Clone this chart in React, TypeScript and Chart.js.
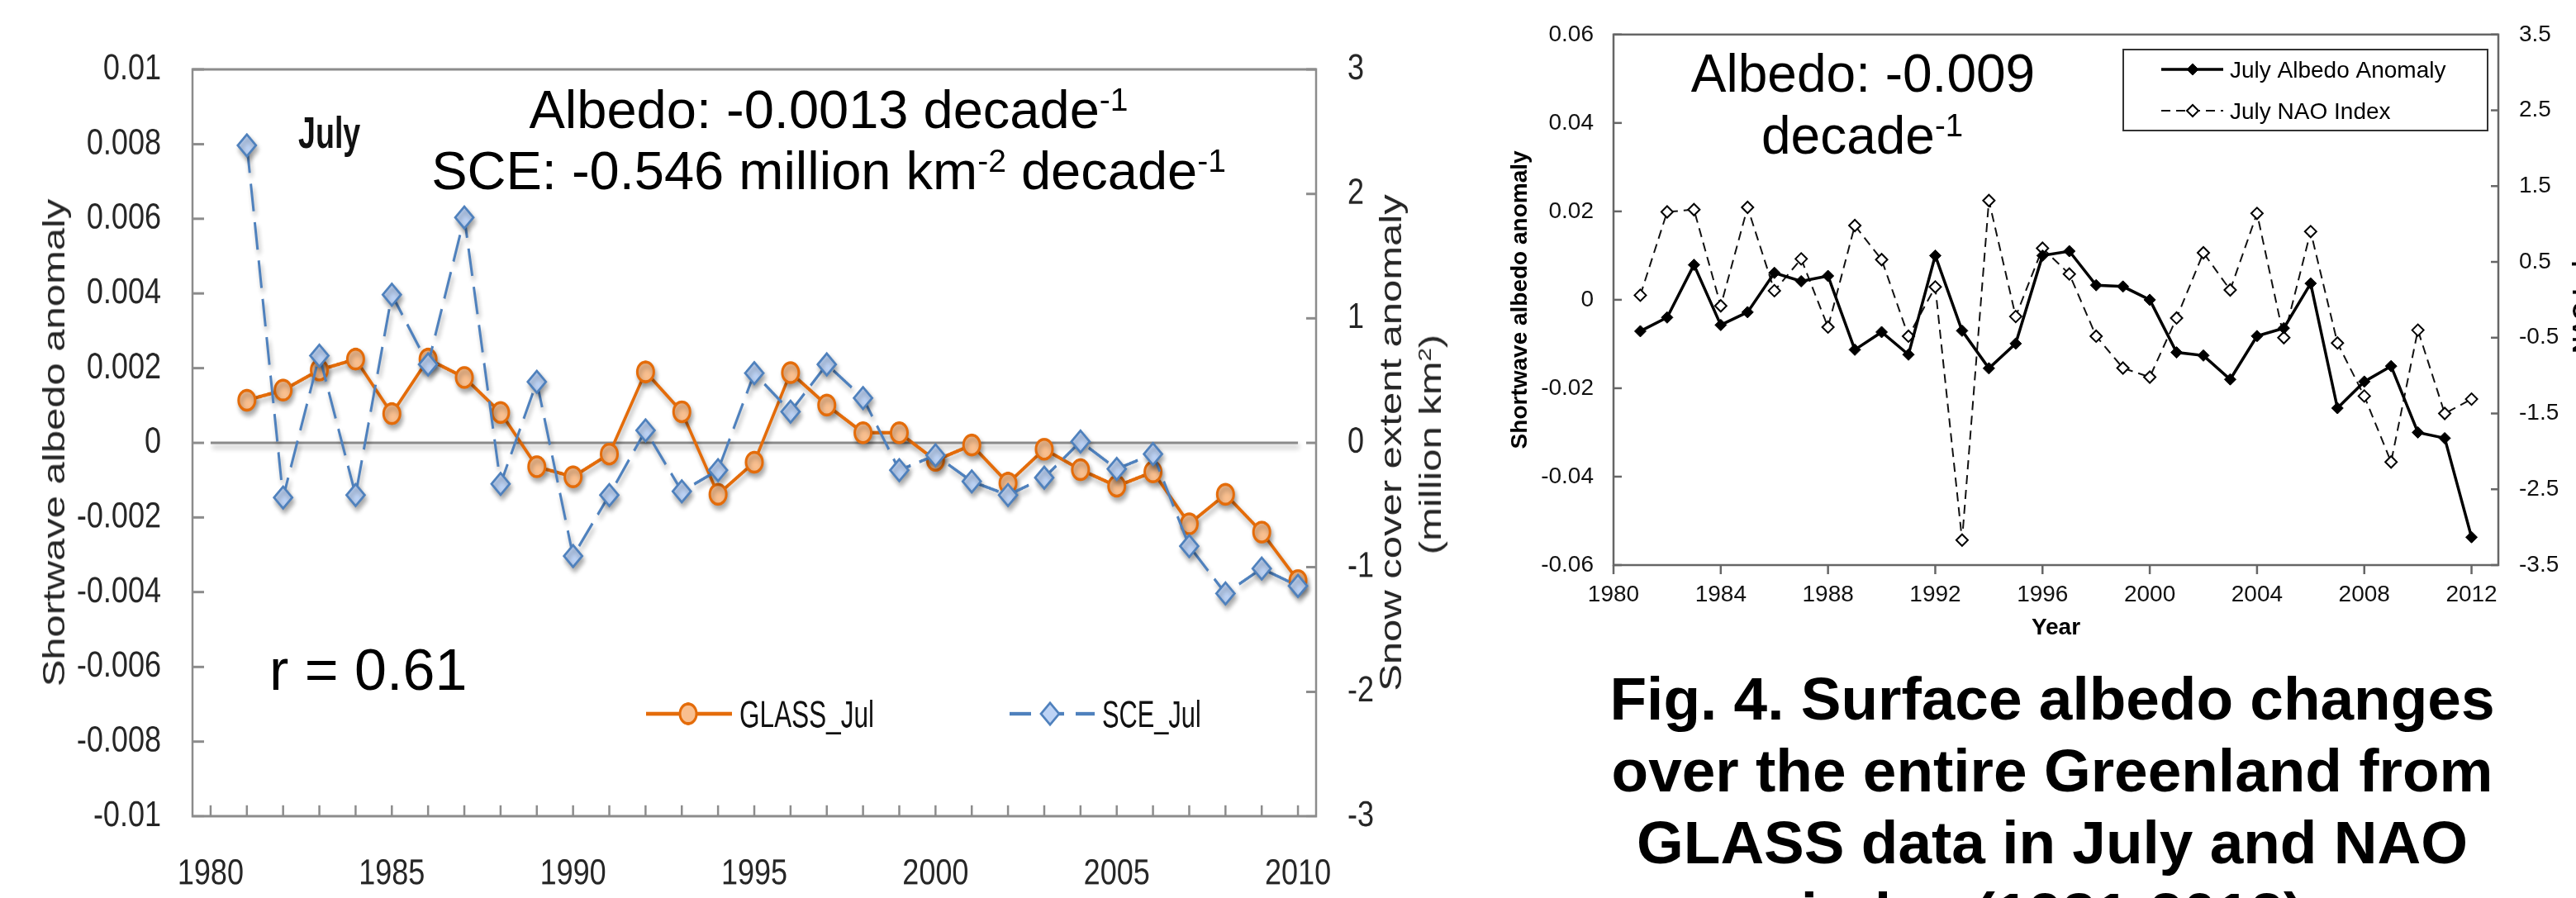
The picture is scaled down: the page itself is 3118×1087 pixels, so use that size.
import React, { useEffect, useRef } from 'react';
import { Chart, registerables } from 'chart.js';

Chart.register(...registerables);

const FONT = "'Liberation Sans', Arial, Helvetica, sans-serif";

// ---------------- Left chart data (GLASS July albedo vs. snow cover extent) ----------------
const leftYears = [1981, 1982, 1983, 1984, 1985, 1986, 1987, 1988, 1989, 1990, 1991, 1992, 1993, 1994, 1995, 1996, 1997, 1998, 1999, 2000, 2001, 2002, 2003, 2004, 2005, 2006, 2007, 2008, 2009, 2010];
const glassJul = [0.00114, 0.00141, 0.00195, 0.00224, 0.00078, 0.00224, 0.00175, 0.00081, -0.00064, -0.00091, -0.0003, 0.0019, 0.00083, -0.00138, -0.00052, 0.00188, 0.00101, 0.00027, 0.00027, -0.00047, -0.00006, -0.00108, -0.00017, -0.00072, -0.00116, -0.00078, -0.00217, -0.00138, -0.00239, -0.00369];
const sceJul = [2.39, -0.44, 0.7, -0.42, 1.19, 0.63, 1.81, -0.33, 0.49, -0.91, -0.42, 0.1, -0.39, -0.22, 0.56, 0.25, 0.63, 0.36, -0.22, -0.1, -0.31, -0.42, -0.28, 0.01, -0.21, -0.09, -0.83, -1.21, -1.01, -1.15];
const zeroLineYears = [1980, 2010];
const leftXTicks = [1980, 1981, 1982, 1983, 1984, 1985, 1986, 1987, 1988, 1989, 1990, 1991, 1992, 1993, 1994, 1995, 1996, 1997, 1998, 1999, 2000, 2001, 2002, 2003, 2004, 2005, 2006, 2007, 2008, 2009, 2010];
const leftXLabels = [1980, 1985, 1990, 1995, 2000, 2005, 2010];
const albedoTicks = [-0.01, -0.008, -0.006, -0.004, -0.002, 0, 0.002, 0.004, 0.006, 0.008, 0.01];
const albedoTickLabels = ['-0.01', '-0.008', '-0.006', '-0.004', '-0.002', '0', '0.002', '0.004', '0.006', '0.008', '0.01'];
const sceTicks = [-3, -2, -1, 0, 1, 2, 3];
const sceTickLabels = ['-3', '-2', '-1', '0', '1', '2', '3'];

// ---------------- Right chart data (July albedo anomaly vs. NAO) ----------------
const rightYears = [1981, 1982, 1983, 1984, 1985, 1986, 1987, 1988, 1989, 1990, 1991, 1992, 1993, 1994, 1995, 1996, 1997, 1998, 1999, 2000, 2001, 2002, 2003, 2004, 2005, 2006, 2007, 2008, 2009, 2010, 2011, 2012];
const julyAlbedo = [-0.0071, -0.004, 0.0079, -0.0057, -0.0028, 0.0061, 0.0042, 0.0054, -0.0113, -0.0073, -0.0124, 0.01, -0.007, -0.0155, -0.0099, 0.01, 0.011, 0.0033, 0.003, 0.0, -0.0119, -0.0126, -0.018, -0.0082, -0.0064, 0.0037, -0.0245, -0.0185, -0.015, -0.03, -0.0313, -0.0537];
const julyNao = [0.06, 1.16, 1.19, -0.08, 1.22, 0.12, 0.54, -0.36, 0.98, 0.53, -0.48, 0.17, -3.17, 1.31, -0.22, 0.68, 0.34, -0.48, -0.9, -1.02, -0.24, 0.62, 0.13, 1.14, -0.5, 0.9, -0.57, -1.27, -2.14, -0.4, -1.5, -1.31];
const rightXTicks = [1980, 1984, 1988, 1992, 1996, 2000, 2004, 2008, 2012];
const rightXTickLabels = ['1980', '1984', '1988', '1992', '1996', '2000', '2004', '2008', '2012'];
const rightAlbedoTicks = [-0.06, -0.04, -0.02, 0, 0.02, 0.04, 0.06];
const rightAlbedoTickLabels = ['-0.06', '-0.04', '-0.02', '0', '0.02', '0.04', '0.06'];
const naoTicks = [-3.5, -2.5, -1.5, -0.5, 0.5, 1.5, 2.5, 3.5];
const naoTickLabels = ['-3.5', '-2.5', '-1.5', '-0.5', '0.5', '1.5', '2.5', '3.5'];

const captionLines = [
  'Fig. 4. Surface albedo changes',
  'over the entire Greenland from',
  'GLASS data in July and NAO',
  'index (1981-2012)',
];

// ---------------- layout constants ----------------
const STRETCH = 1.2; // left figure is vertically stretched in the poster
const LW = 1790;
const LH = 906;
const L_TOP = 70;
const L_BOTTOM = 823.33;

const RW = 1328;
const RH = 800;

const decorPlugin: any = {
  id: 'decor',
  beforeDatasetsDraw(chart: any, _a: any, opts: any) {
    const { ctx, chartArea: a } = chart;
    ctx.save();
    ctx.strokeStyle = opts.boxColor;
    ctx.lineWidth = opts.boxWidth;
    ctx.strokeRect(a.left, a.top, a.right - a.left, a.bottom - a.top);
    const marks = opts.marks || [];
    for (let k = 0; k < marks.length; k++) {
      const m = marks[k];
      const sc = chart.scales[m.scale];
      sc.ticks.forEach((t: any) => {
        const p = sc.getPixelForValue(t.value);
        ctx.beginPath();
        if (m.edge === 'left') { ctx.moveTo(a.left, p); ctx.lineTo(a.left + m.len, p); }
        else if (m.edge === 'right') { ctx.moveTo(a.right, p); ctx.lineTo(a.right - m.len, p); }
        else { ctx.moveTo(p, a.bottom); ctx.lineTo(p, a.bottom - m.len); }
        ctx.stroke();
      });
    }
    ctx.restore();
  },
  beforeDatasetDraw(chart: any, _a: any, opts: any) {
    if (!opts.shadow) return;
    const ctx = chart.ctx;
    const r = chart.currentDevicePixelRatio || 1;
    ctx.save();
    ctx.shadowColor = opts.shadow.color;
    ctx.shadowBlur = opts.shadow.blur * r;
    ctx.shadowOffsetX = opts.shadow.dx * r;
    ctx.shadowOffsetY = opts.shadow.dy * r;
  },
  afterDatasetDraw(chart: any, _a: any, opts: any) {
    if (opts.shadow) chart.ctx.restore();
  },
  afterDraw(chart: any, _a: any, opts: any) {
    const ctx = chart.ctx;
    if (opts.legendBox) {
      const b = opts.legendBox;
      ctx.save();
      ctx.strokeStyle = b.color;
      ctx.lineWidth = b.width;
      ctx.strokeRect(b.x, b.y, b.w, b.h);
      ctx.restore();
    }
    const items = opts.legend || [];
    for (let k = 0; k < items.length; k++) {
      const it = items[k];
      const ds: any = chart.data.datasets[it.dataset];
      ctx.save();
      ctx.strokeStyle = ds.borderColor;
      ctx.lineWidth = it.lineWidth;
      ctx.setLineDash(it.dash ? Array.from(it.dash) : []);
      ctx.beginPath();
      ctx.moveTo(it.x1, it.y);
      ctx.lineTo(it.x2, it.y);
      ctx.stroke();
      ctx.setLineDash([]);
      ctx.fillStyle = ds.pointBackgroundColor;
      ctx.strokeStyle = ds.pointBorderColor;
      ctx.lineWidth = ds.pointBorderWidth;
      const r = it.r;
      ctx.beginPath();
      if (ds.pointStyle === 'circle') {
        ctx.arc(it.mx, it.y, r, 0, Math.PI * 2);
      } else {
        ctx.moveTo(it.mx - r, it.y);
        ctx.lineTo(it.mx, it.y - r);
        ctx.lineTo(it.mx + r, it.y);
        ctx.lineTo(it.mx, it.y + r);
        ctx.closePath();
      }
      ctx.fill();
      ctx.stroke();
      ctx.fillStyle = it.color;
      ctx.font = it.font;
      ctx.textAlign = 'left';
      ctx.textBaseline = 'alphabetic';
      ctx.translate(it.tx, it.ty);
      ctx.scale(it.condense, 1);
      ctx.fillText(ds.label, 0, 0);
      ctx.restore();
    }
  },
};

function Txt(props: any) {
  const { x, y, size, weight = 'normal', align = 'left', sx = 1, sy = 1, rot = 0, color = '#000', children } = props;
  const base = size * 0.8465;
  return (
    <div
      style={{
        position: 'absolute', left: x, top: y, width: 0, height: 0,
        transformOrigin: '0 0', transform: `rotate(${rot}deg) scale(${sx}, ${sy})`,
      }}
    >
      <div
        style={{
          position: 'absolute', top: -base, left: 0, whiteSpace: 'nowrap',
          fontFamily: FONT, fontSize: size, lineHeight: `${size}px`, fontWeight: weight, color,
          transform: align === 'center' ? 'translateX(-50%)' : undefined,
        }}
      >
        {children}
      </div>
    </div>
  );
}

function Sup(props: any) {
  return <span style={{ fontSize: '0.6em', position: 'relative', top: '-0.55em' }}>{props.children}</span>;
}

function LeftChart() {
  const ref = useRef<HTMLCanvasElement | null>(null);
  useEffect(() => {
    const tickFont = { family: FONT, size: 36 };
    const chart = new Chart(ref.current as HTMLCanvasElement, {
      type: 'line',
      data: {
        datasets: [
          {
            label: 'SCE_Jul',
            data: leftYears.map((yr, i) => ({ x: yr, y: sceJul[i] })),
            yAxisID: 'y2',
            borderColor: '#4F81BD',
            borderWidth: 3,
            borderDash: [28, 11],
            pointStyle: 'rectRot',
            pointRadius: 11,
            pointBackgroundColor: '#BDD3F5',
            pointBorderColor: '#4F81BD',
            pointBorderWidth: 2.5,
            tension: 0,
          },
          {
            label: 'GLASS_Jul',
            data: leftYears.map((yr, i) => ({ x: yr, y: glassJul[i] })),
            yAxisID: 'y',
            borderColor: '#E46C0A',
            borderWidth: 3.5,
            pointStyle: 'circle',
            pointRadius: 10,
            pointBackgroundColor: '#F9BF8F',
            pointBorderColor: '#E46C0A',
            pointBorderWidth: 3,
            tension: 0,
          },
          {
            label: 'zero',
            data: zeroLineYears.map((yr) => ({ x: yr, y: 0 })),
            yAxisID: 'y',
            borderColor: '#8a8a8a',
            borderWidth: 2.5,
            pointRadius: 0,
          },
        ],
      } as any,
      options: {
        responsive: false,
        animation: false,
        devicePixelRatio: 2,
        layout: { padding: { top: L_TOP, left: 0, right: 0, bottom: 0 } },
        plugins: {
          legend: { display: false },
          tooltip: { enabled: false },
          decor: {
            boxColor: '#8c8c8c',
            boxWidth: 2.5,
            marks: [
              { scale: 'x', edge: 'bottom', len: 11 },
              { scale: 'y', edge: 'left', len: 14 },
              { scale: 'y2', edge: 'right', len: 12 },
            ],
            shadow: { color: 'rgba(0,0,0,0.33)', blur: 6, dx: 2, dy: 4 },
            legend: [
              { dataset: 1, x1: 782, x2: 886, mx: 833, y: 720, r: 10, lineWidth: 4, tx: 895, ty: 733.3, font: `38px ${FONT}`, condense: 0.83, color: '#111' },
              { dataset: 0, x1: 1222, x2: 1325, mx: 1271, y: 720, r: 11, lineWidth: 3.5, dash: [26, 14], tx: 1334, ty: 733.3, font: `38px ${FONT}`, condense: 0.81, color: '#111' },
            ],
          },
        } as any,
        scales: {
          x: {
            type: 'linear',
            min: 1979.5,
            max: 2010.5,
            afterBuildTicks: (s: any) => { s.ticks = leftXTicks.map((v) => ({ value: v })); },
            afterFit: (s: any) => { s.height = LH - L_BOTTOM; },
            grid: { display: false, drawTicks: false },
            border: { display: false },
            ticks: {
              autoSkip: false, maxRotation: 0, minRotation: 0, padding: 37,
              font: tickFont, color: '#262626',
              callback: (v: any) => (leftXLabels.includes(v) ? String(v) : ''),
            },
          },
          y: {
            position: 'left',
            min: -0.01,
            max: 0.01,
            afterBuildTicks: (s: any) => { s.ticks = albedoTicks.map((v) => ({ value: v })); },
            afterFit: (s: any) => { s.width = 233; },
            grid: { display: false, drawTicks: false },
            border: { display: false },
            ticks: { padding: 38, font: tickFont, color: '#262626', callback: (_v: any, i: number) => albedoTickLabels[i] },
          },
          y2: {
            position: 'right',
            min: -3,
            max: 3,
            afterBuildTicks: (s: any) => { s.ticks = sceTicks.map((v) => ({ value: v })); },
            afterFit: (s: any) => { s.width = LW - 1593; },
            grid: { display: false, drawTicks: false },
            border: { display: false },
            ticks: { padding: 38, font: tickFont, color: '#262626', callback: (_v: any, i: number) => sceTickLabels[i] },
          },
        } as any,
      },
      plugins: [decorPlugin],
    });
    return () => chart.destroy();
  }, []);
  return (
    <canvas
      ref={ref}
      width={LW}
      height={LH}
      style={{
        position: 'absolute', left: 0, top: 0, width: LW, height: LH,
        transformOrigin: '0 0', transform: `scaleY(${STRETCH})`,
      }}
    />
  );
}

function RightChart() {
  const ref = useRef<HTMLCanvasElement | null>(null);
  useEffect(() => {
    const tickFont = { family: FONT, size: 28 };
    const chart = new Chart(ref.current as HTMLCanvasElement, {
      type: 'line',
      data: {
        datasets: [
          {
            label: 'July Albedo Anomaly',
            data: rightYears.map((yr, i) => ({ x: yr, y: julyAlbedo[i] })),
            yAxisID: 'y',
            borderColor: '#000',
            borderWidth: 3.5,
            pointStyle: 'rectRot',
            pointRadius: 7,
            pointBackgroundColor: '#000',
            pointBorderColor: '#000',
            pointBorderWidth: 1,
            tension: 0,
          },
          {
            label: 'July NAO Index',
            data: rightYears.map((yr, i) => ({ x: yr, y: julyNao[i] })),
            yAxisID: 'y2',
            borderColor: '#111',
            borderWidth: 2,
            borderDash: [11, 7],
            pointStyle: 'rectRot',
            pointRadius: 7,
            pointBackgroundColor: '#fff',
            pointBorderColor: '#000',
            pointBorderWidth: 2,
            tension: 0,
          },
        ],
      } as any,
      options: {
        responsive: false,
        animation: false,
        devicePixelRatio: 1,
        layout: { padding: { top: 27, left: 0, right: 0, bottom: 0 } },
        plugins: {
          legend: { display: false },
          tooltip: { enabled: false },
          decor: {
            boxColor: '#666',
            boxWidth: 2.5,
            marks: [
              { scale: 'x', edge: 'bottom', len: -11 },
              { scale: 'y', edge: 'left', len: 10 },
              { scale: 'y2', edge: 'right', len: 9 },
            ],
            legendBox: { x: 780, y: 60, w: 441, h: 98, color: '#333', width: 2 },
            legend: [
              { dataset: 0, x1: 826, x2: 901, mx: 864, y: 84, r: 7, lineWidth: 3.5, tx: 909, ty: 94, font: `28px ${FONT}`, condense: 1, color: '#000' },
              { dataset: 1, x1: 826, x2: 901, mx: 864, y: 134, r: 7, lineWidth: 2, dash: [11, 7], tx: 909, ty: 144, font: `28px ${FONT}`, condense: 1, color: '#000' },
            ],
          },
        } as any,
        scales: {
          x: {
            type: 'linear',
            min: 1980,
            max: 2013,
            afterBuildTicks: (s: any) => { s.ticks = rightXTicks.map((v) => ({ value: v })); },
            afterFit: (s: any) => { s.height = RH - 684; },
            grid: { display: false, drawTicks: false },
            border: { display: false },
            title: { display: true, text: 'Year', color: '#000', font: { family: FONT, size: 28, weight: 'bold' }, padding: { top: 0, bottom: 23 } },
            ticks: {
              autoSkip: false, maxRotation: 0, minRotation: 0, padding: 19, font: tickFont, color: '#111',
              callback: (_v: any, i: number) => rightXTickLabels[i],
            },
          },
          y: {
            position: 'left',
            min: -0.06,
            max: 0.06,
            afterBuildTicks: (s: any) => { s.ticks = rightAlbedoTicks.map((v) => ({ value: v })); },
            afterFit: (s: any) => { s.width = 163; },
            grid: { display: false, drawTicks: false },
            border: { display: false },
            title: { display: true, text: 'Shortwave albedo anomaly', color: '#000', font: { family: FONT, size: 28, weight: 'bold' }, padding: { top: 33, bottom: 0 } },
            ticks: { padding: 24, font: tickFont, color: '#111', callback: (_v: any, i: number) => rightAlbedoTickLabels[i] },
          },
          y2: {
            position: 'right',
            min: -3.5,
            max: 3.5,
            afterBuildTicks: (s: any) => { s.ticks = naoTicks.map((v) => ({ value: v })); },
            afterFit: (s: any) => { s.width = RW - 1234; },
            grid: { display: false, drawTicks: false },
            border: { display: false },
            ticks: { padding: 25, font: tickFont, color: '#111', callback: (_v: any, i: number) => naoTickLabels[i] },
          },
        } as any,
      },
      plugins: [decorPlugin],
    });
    return () => chart.destroy();
  }, []);
  return (
    <canvas
      ref={ref}
      width={RW}
      height={RH}
      style={{ position: 'absolute', left: 1790, top: 0, width: RW, height: RH }}
    />
  );
}

export default function App() {
  const capBase = [871, 958, 1045, 1132];
  return (
    <div
      style={{
        position: 'absolute', left: 0, top: 0, width: 3118, height: 1087,
        overflow: 'hidden', background: '#fff',
      }}
    >
      <LeftChart />
      <RightChart />

      {/* left figure texts */}
      <Txt x={361} y={179} size={40} weight="bold" sx={0.94} sy={1.36} color="#111">July</Txt>
      <Txt x={1003} y={155} size={65} align="center">
        Albedo: -0.0013 decade<Sup>-1</Sup>
      </Txt>
      <Txt x={1003} y={229} size={65} align="center">
        SCE: -0.546 million km<Sup>-2</Sup> decade<Sup>-1</Sup>
      </Txt>
      <Txt x={326} y={835} size={70}>r = 0.61</Txt>
      <Txt x={78} y={536} size={36} align="center" rot={-90} sx={1.36} color="#262626">
        Shortwave albedo anomaly
      </Txt>
      <Txt x={1696} y={536} size={36} align="center" rot={-90} sx={1.36} color="#262626">
        Snow cover extent anomaly
      </Txt>
      <Txt x={1744} y={538} size={36} align="center" rot={-90} sx={1.36} color="#262626">
        (million km<Sup>2</Sup>)
      </Txt>

      {/* right figure texts */}
      <Txt x={2255} y={111} size={64} align="center">Albedo: -0.009</Txt>
      <Txt x={2254} y={186} size={64} align="center">
        decade<Sup>-1</Sup>
      </Txt>
      <Txt x={3134} y={356} size={28} weight="bold" align="center" rot={-90}>NAO Index</Txt>

      {/* caption */}
      {captionLines.map((line, i) => (
        <Txt key={i} x={2484} y={capBase[i]} size={73} weight="bold" align="center">{line}</Txt>
      ))}
    </div>
  );
}
